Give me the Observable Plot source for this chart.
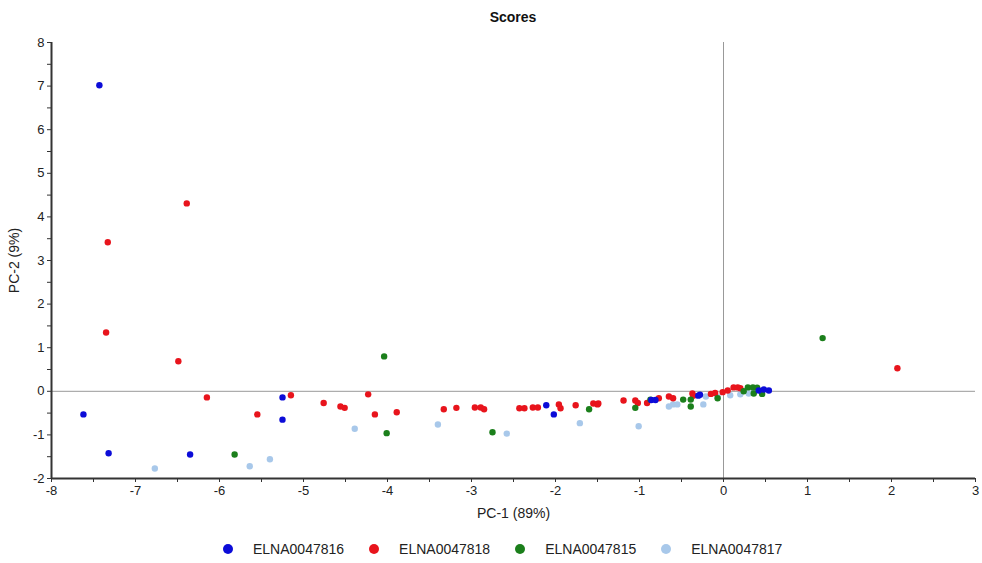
<!DOCTYPE html>
<html>
<head>
<meta charset="utf-8">
<script src="https://cdn.jsdelivr.net/npm/d3@7"></script>
<script src="https://cdn.jsdelivr.net/npm/@observablehq/plot@0.6"></script>
<style>
  body { margin: 0; background: #fff; font-family: "Liberation Sans", Arial, sans-serif; }
  #title { width: 982px; height: 30px; box-sizing: border-box; padding-left: 44px; padding-top: 4px; line-height: 26px; text-align: center; font-weight: bold; font-size: 14px; color: #111; }
  #legend { display: flex; align-items: center; height: 33px; padding-top: 4px; box-sizing: border-box; padding-left: 223px; font-size: 14px; color: #222; }
  .item { display: flex; align-items: center; margin-right: 25px; }
  .sw { width: 10px; height: 10px; border-radius: 50%; margin-right: 20px; }
</style>
</head>
<body>
<div id="title">Scores</div>
<div id="chart"></div>
<div id="legend"></div>
<script>
const seriesNames = ["ELNA0047816", "ELNA0047818", "ELNA0047815", "ELNA0047817"];
const seriesColors = ["#0c0cd8", "#e8141c", "#1b7f1b", "#a8c8ea"];

const blueX = [-7.43, -7.62, -7.32, -6.35, -5.25, -5.25, -2.11, -2.02, -0.86, -0.81, -0.30, -0.28, 0.42, 0.48, 0.54];
const blueY = [7.02, -0.53, -1.42, -1.45, -0.14, -0.65, -0.32, -0.53, -0.20, -0.20, -0.10, -0.08, 0.02, 0.04, 0.02];

const redX = [-7.33, -6.39, -7.35, -6.49, -6.15, -5.55, -5.15, -4.76, -4.56, -4.51, -4.23, -4.15, -3.89, -3.33, -3.18, -2.96, -2.89, -2.85, -2.43, -2.37, -2.27, -2.21, -1.96, -1.94, -1.76, -1.55, -1.50, -1.49, -1.19, -1.05, -1.02, -0.91, -0.77, -0.65, -0.60, -0.37, -0.36, -0.15, -0.10, -0.01, 0.05, 0.12, 0.17, 0.20, 2.07];
const redY = [3.42, 4.31, 1.35, 0.69, -0.14, -0.53, -0.09, -0.27, -0.35, -0.38, -0.07, -0.53, -0.48, -0.41, -0.38, -0.37, -0.37, -0.41, -0.39, -0.39, -0.37, -0.37, -0.30, -0.39, -0.32, -0.28, -0.30, -0.28, -0.21, -0.21, -0.27, -0.27, -0.16, -0.12, -0.16, -0.05, -0.10, -0.06, -0.04, -0.02, 0.02, 0.09, 0.09, 0.07, 0.53];

const greenX = [-5.82, -4.04, -4.01, -2.75, -1.60, -1.05, -0.87, -0.48, -0.39, -0.39, -0.07, 0.24, 0.29, 0.35, 0.36, 0.40, 0.46, 1.18];
const greenY = [-1.45, 0.80, -0.96, -0.94, -0.41, -0.38, -0.19, -0.19, -0.19, -0.35, -0.16, 0.00, 0.09, 0.09, -0.05, 0.08, -0.06, 1.22];

const lightX = [-6.77, -5.64, -5.40, -4.39, -3.40, -2.58, -1.71, -1.01, -0.65, -0.60, -0.55, -0.24, -0.21, -0.07, 0.08, 0.20, 0.30, 0.36];
const lightY = [-1.77, -1.72, -1.56, -0.86, -0.76, -0.97, -0.73, -0.80, -0.35, -0.30, -0.30, -0.30, -0.12, -0.13, -0.09, -0.07, -0.05, -0.03];

const xTicks = d3.range(-8, 3.001, 0.5);
const yTicks = d3.range(-2, 8.001, 0.5);

function rows(xs, ys, s) { return xs.map((x, i) => ({x, y: ys[i], s})); }
// drawing order: light blue, red, green, blue
const data = [
  ...rows(lightX, lightY, seriesNames[3]),
  ...rows(redX, redY, seriesNames[1]),
  ...rows(greenX, greenY, seriesNames[2]),
  ...rows(blueX, blueY, seriesNames[0])
];

const fmt = d => Number.isInteger(d) ? String(d) : "";

const chart = Plot.plot({
  width: 982,
  height: 500,
  marginTop: 12,
  marginLeft: 51,
  marginRight: 7,
  marginBottom: 52,
  style: { fontFamily: "Liberation Sans, Arial, sans-serif", fontSize: "13px", color: "#222", background: "#fff" },
  x: { domain: [-8, 3] },
  y: { domain: [-2, 8] },
  color: { domain: seriesNames, range: seriesColors },
  marks: [
    Plot.ruleX([0], { stroke: "#999", strokeWidth: 1 }),
    Plot.ruleY([0], { stroke: "#999", strokeWidth: 1 }),
    Plot.axisX({ ticks: xTicks, tickFormat: fmt, tickSize: 4, tickPadding: 3, stroke: "#333", label: null, fontSize: 13 }),
    Plot.axisX({ ticks: [], label: "PC-1 (89%)", labelAnchor: "center", labelArrow: "none", labelOffset: 39, fontSize: 14 }),
    Plot.axisY({ ticks: yTicks, tickFormat: fmt, tickSize: 4, tickPadding: 3, stroke: "#333", label: null, fontSize: 13 }),
    Plot.axisY({ ticks: [], label: "PC-2 (9%)", labelAnchor: "center", labelArrow: "none", labelOffset: 42, fontSize: 14 }),
    Plot.ruleX([-8], { stroke: "#333", strokeWidth: 2 }),
    Plot.ruleY([-2], { stroke: "#333", strokeWidth: 2 }),
    Plot.dot(data, { x: "x", y: "y", fill: "s", r: 3.2, stroke: null })
  ]
});
document.getElementById("chart").appendChild(chart);

const legend = document.getElementById("legend");
seriesNames.forEach((name, i) => {
  const item = document.createElement("div");
  item.className = "item";
  const sw = document.createElement("span");
  sw.className = "sw";
  sw.style.background = seriesColors[i];
  const t = document.createElement("span");
  t.textContent = name;
  item.appendChild(sw);
  item.appendChild(t);
  legend.appendChild(item);
});
</script>
</body>
</html>
